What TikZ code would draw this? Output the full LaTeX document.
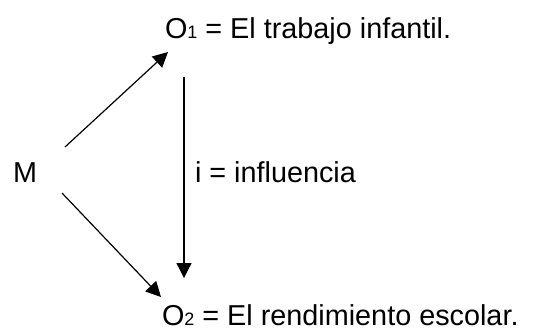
\documentclass[tikz,border=0pt]{standalone}
\usepackage{fontspec}
\setmainfont{Liberation Sans}
\usetikzlibrary{arrows.meta}
\begin{document}
\begin{tikzpicture}[x=0.5pt,y=-0.5pt,
  lbl/.style={inner sep=0pt,outer sep=0pt,font=\fontsize{14.4}{17}\selectfont},
  arr/.style={line width=0.6pt,-{Triangle[length=7.5pt,width=7.5pt]}}]
\useasboundingbox (0,0) rectangle (551,329);
\newcommand{\sub}[1]{\raisebox{-0.3pt}{\fontsize{9}{10}\selectfont #1}}
\node[lbl,anchor=base west] (O1) at (165,38) {O\sub{1} = El trabajo infantil.};
\node[lbl,anchor=base west] (O2) at (162,325) {O\sub{2} = El rendimiento escolar.};
\node[lbl,anchor=base west] (M) at (13,182) {M};
\node[lbl,anchor=base west] (I) at (195,182) {i = influencia};
\coordinate (m1) at (65,147);
\coordinate (t1) at (168,52);
\coordinate (m2) at (62,193);
\coordinate (t2) at (161,297);
\coordinate (v1) at (184,77);
\coordinate (v2) at (184,278);
\draw[arr] (m1) -- (t1);
\draw[arr] (m2) -- (t2);
\draw[arr] (v1) -- (v2);
\end{tikzpicture}
\end{document}
